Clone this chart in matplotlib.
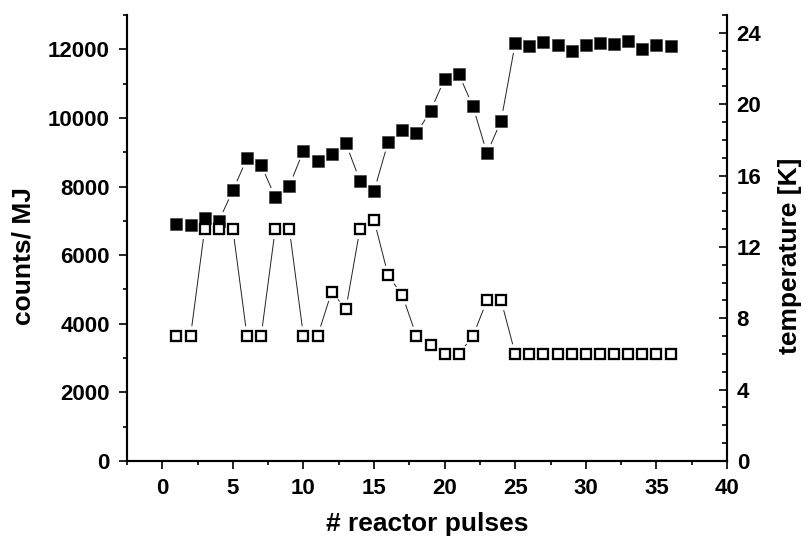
"""Counts per MJ and temperature versus number of reactor pulses (double y axis)."""
import numpy as np
import matplotlib
matplotlib.use('Agg')
import matplotlib.pyplot as plt
from matplotlib.collections import LineCollection
from matplotlib.ticker import MultipleLocator
plt.rcParams.update({'font.family': 'Liberation Sans', 'font.weight': 'bold', 'font.size': 16,
                     'axes.linewidth': 1.5, 'axes.labelweight': 'bold'})

pulses = np.arange(1, 37)
counts = [6920, 6890, 7090, 6990, 7890, 8820, 8630, 7690, 8020, 9050, 8730, 8940,
          9260, 8170, 7870, 9300, 9640, 9550, 10200, 11140, 11280, 10340, 8970, 9920,
          12180, 12090, 12210, 12120, 11960, 12140, 12190, 12150, 12240, 12020, 12140, 12110]
temperature = [7, 7, 13, 13, 13, 7, 7, 13, 13, 7, 7, 9.5,
               8.5, 13, 13.5, 10.4, 9.3, 7, 6.5, 6, 6, 7, 9, 9,
               6, 6, 6, 6, 6, 6, 6, 6, 6, 6, 6, 6]

def gapped_line(a, x, y, gap=10):
    # Origin-style connecting line that stops short of each marker
    pts = a.transData.transform(np.column_stack([x, y]))
    inv = a.transData.inverted()
    segs = []
    for p, q in zip(pts[:-1], pts[1:]):
        d = q - p; L = np.hypot(*d)
        if L > 2*gap:
            u = d/L
            segs.append(inv.transform(np.array([p + u*gap, q - u*gap])))
    a.add_collection(LineCollection(segs, colors='#222222', lw=0.7, zorder=1))

fig = plt.figure(figsize=(8.05, 5.42), dpi=100)
ax = fig.add_axes([127/805, 81/542, 600/805, 446/542])
ax2 = ax.twinx()
ax.set_xlim(-2.5, 40); ax.set_ylim(0, 13000); ax2.set_ylim(0, 25)
ax.set_zorder(2); ax.patch.set_visible(False)

gapped_line(ax, pulses, counts)
ax.plot(pulses, counts, ls='none', marker='s', ms=9.1, mfc='k', mec='#333333', mew=0.4, zorder=3)
gapped_line(ax2, pulses, temperature)
ax2.plot(pulses, temperature, ls='none', marker='s', ms=7.0, mfc='white', mec='k', mew=1.65, zorder=4)
# open squares sit on top of the filled ones where they overlap
ax2.set_zorder(3); ax2.patch.set_visible(False)

for a in (ax, ax2):
    a.spines['top'].set_visible(False)
ax.xaxis.set_major_locator(MultipleLocator(5)); ax.xaxis.set_minor_locator(MultipleLocator(2.5))
ax.yaxis.set_major_locator(MultipleLocator(2000)); ax.yaxis.set_minor_locator(MultipleLocator(1000))
ax2.yaxis.set_major_locator(MultipleLocator(4)); ax2.yaxis.set_minor_locator(MultipleLocator(1))
ax.tick_params(which='major', direction='out', length=6, width=1.2, pad=6.5)
ax.tick_params(which='minor', direction='out', length=3.2, width=1.2)
ax2.tick_params(which='major', direction='in', length=6, width=1.2, pad=7)
ax2.tick_params(which='minor', direction='in', length=3.5, width=1.2)

ax.set_xlabel('# reactor pulses', fontsize=19, labelpad=9)
ax.set_ylabel('counts/ MJ', fontsize=19, labelpad=9)
ax2.set_ylabel('temperature [K]', fontsize=19, labelpad=12)
ax.yaxis.label.set_y(0.46); ax2.yaxis.label.set_y(0.46)

fig.savefig('out.png', dpi=100)
print('done')
